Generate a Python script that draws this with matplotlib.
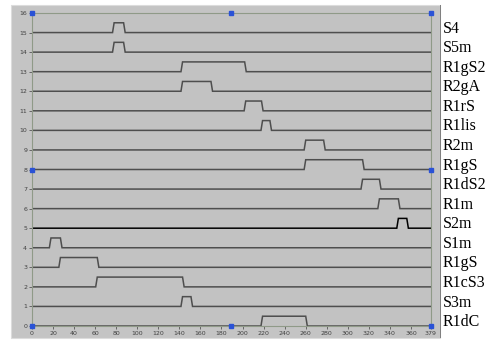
import matplotlib.pyplot as plt
from matplotlib.patches import Rectangle

# channel names, top to bottom
names = ['S4', 'S5m', 'R1gS2', 'R2gA', 'R1rS', 'R1lis', 'R2m', 'R1gS',
         'R1dS2', 'R1m', 'S2m', 'S1m', 'R1gS', 'R1cS3', 'S3m', 'R1dC']
# pulse start / end (samples) for each channel
t_on = [78, 78, 143, 143, 203, 219, 260, 260, 314, 330, 348, 18, 27, 62, 143, 219]
t_off = [87, 87, 202, 170, 218, 226, 277, 314, 330, 348, 356, 27, 62, 143, 151, 260]

t_end = 379
pulse_h = 0.5
edge = 1.5

fig = plt.figure(figsize=(4.87, 3.41), dpi=100)
fig.patch.set_facecolor('white')
# grey panel behind the graph
fig.patches.append(Rectangle((11/487, 3/341), 429/487, 333/341, transform=fig.transFigure,
                             facecolor='#c4c4c4', edgecolor='#dcdcdc', lw=0.8, zorder=-5))
fig.patches.append(Rectangle((440/487, 3/341), 1/487, 333/341, transform=fig.transFigure,
                             facecolor='#808080', edgecolor='none', zorder=-5))

ax = fig.add_axes([32/487, 15/341, 399/487, 313/341])
ax.set_facecolor('#c2c2c2')

n = len(names)
for i, name in enumerate(names):
    base = n - 1 - i
    on, off = t_on[i], t_off[i]
    xs = [0, on - edge, on, off, off + edge, t_end]
    ys = [base, base, base + pulse_h, base + pulse_h, base, base]
    col = 'black' if name == 'S2m' else '#4e4e4e'
    ax.plot(xs, ys, color=col, lw=1.1, solid_joinstyle='miter')
    ax.text(1.03, base + 0.2, name, transform=ax.get_yaxis_transform(),
            family='Liberation Serif', fontsize=11.5, va='center', ha='left')

# cursor handles
hx = [0, t_end / 2, t_end, 0, t_end, 0, t_end / 2, t_end]
hy = [16, 16, 16, 8, 8, 0, 0, 0]
ax.plot(hx, hy, 's', color='#2a52d6', ms=3, ls='none', clip_on=False, zorder=5)

ax.set_xlim(0, t_end)
ax.set_ylim(0, 16)
ax.set_xticks(list(range(0, 361, 20)) + [379])
ax.set_yticks(range(0, 17))
ax.tick_params(labelsize=4.5, length=2, width=0.5, colors='#404040', pad=1.5)
for s in ax.spines.values():
    s.set_color('#8f9a88')
    s.set_linewidth(0.8)

fig.savefig('out.png', dpi=100)
